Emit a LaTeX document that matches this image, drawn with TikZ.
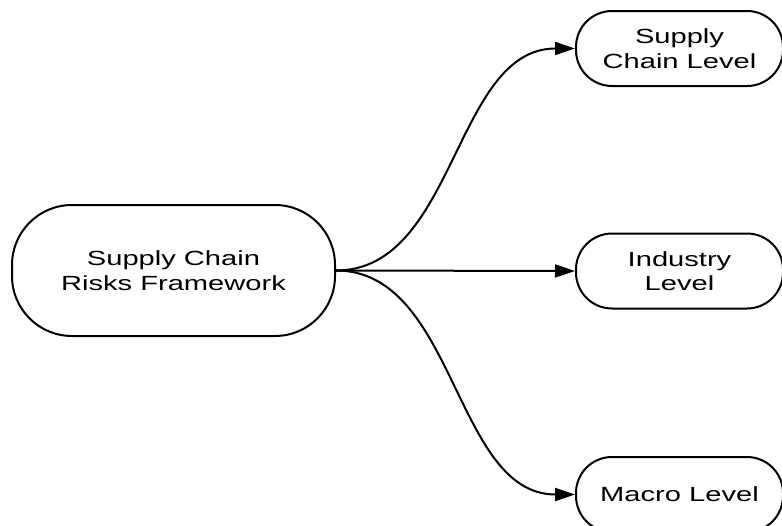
\documentclass[tikz,border=0pt]{standalone}
\usepackage{fontspec}
\setmainfont[FakeStretch=1.42]{Liberation Sans}
\usetikzlibrary{arrows.meta}
\begin{document}
\begin{tikzpicture}[x=1pt,y=-1pt,
  every node/.style={font=\fontsize{20.5}{24.5}\selectfont},
  rootbox/.style={draw,line width=2pt,rounded corners=60pt,inner sep=0pt,
    minimum width=323pt,minimum height=131pt,align=center},
  levelbox/.style={draw,line width=2pt,rounded corners=36pt,inner sep=0pt,
    minimum width=207pt,minimum height=75pt,align=center},
  link/.style={line width=2pt,-{Triangle[length=20pt,width=13pt]}}]
  \useasboundingbox (0,0) rectangle (782,525);
  \node[rootbox] (root) at (173.5,270.5) {Supply Chain\\Risks Framework};
  \node[levelbox] (sc) at (679.5,48.5) {Supply\\Chain Level};
  \node[levelbox] (ind) at (679.5,271) {Industry\\Level};
  \node[levelbox] (mac) at (679.5,494.5) {Macro Level};
  \draw[link] (root.east) .. controls +(120,0) and +(-121,0) .. (sc.west);
  \draw[link] (root.east) -- (ind.west);
  \draw[link] (root.east) .. controls +(120,0) and +(-121,0) .. (mac.west);
\end{tikzpicture}
\end{document}
